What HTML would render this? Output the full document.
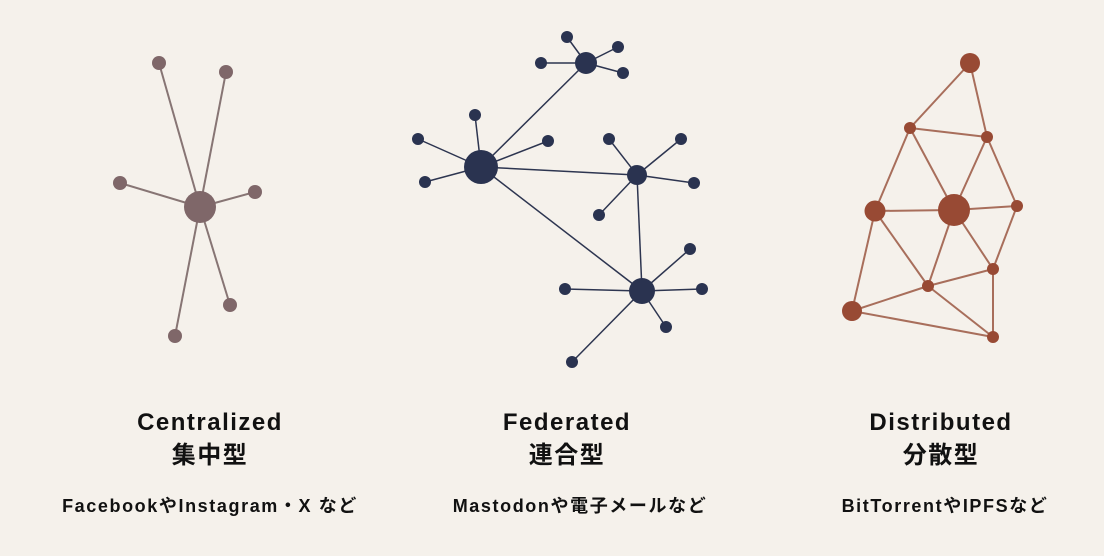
<!DOCTYPE html>
<html><head><meta charset="utf-8"><style>
html,body{margin:0;padding:0;background:#f5f1eb;}
body{width:1104px;height:556px;overflow:hidden;position:relative;font-family:"Liberation Sans","Noto Sans CJK JP",sans-serif;color:#111;}
.t{position:absolute;text-align:center;font-weight:bold;}
.h{font-size:24px;line-height:33px;letter-spacing:1.5px;}
.s{font-size:18px;letter-spacing:1.6px;}
</style></head><body>
<svg width="1104" height="556" style="position:absolute;left:0;top:0">
<g stroke="#877574" stroke-width="2">
<line x1="200" y1="207" x2="159" y2="63"/><line x1="200" y1="207" x2="226" y2="72"/>
<line x1="200" y1="207" x2="120" y2="183"/><line x1="200" y1="207" x2="255" y2="192"/>
<line x1="200" y1="207" x2="230" y2="305"/><line x1="200" y1="207" x2="175" y2="336"/>
</g>
<g fill="#7f6769">
<circle cx="200" cy="207" r="16"/><circle cx="159" cy="63" r="7"/><circle cx="226" cy="72" r="7"/>
<circle cx="120" cy="183" r="7"/><circle cx="255" cy="192" r="7"/><circle cx="230" cy="305" r="7"/><circle cx="175" cy="336" r="7"/>
</g>
<g stroke="#2d3550" stroke-width="1.5">
<line x1="481" y1="167" x2="418" y2="139"/><line x1="481" y1="167" x2="425" y2="182"/>
<line x1="481" y1="167" x2="475" y2="115"/><line x1="481" y1="167" x2="548" y2="141"/>
<line x1="481" y1="167" x2="586" y2="63"/><line x1="481" y1="167" x2="637" y2="175"/>
<line x1="481" y1="167" x2="642" y2="291"/>
<line x1="586" y1="63" x2="567" y2="37"/><line x1="586" y1="63" x2="618" y2="47"/>
<line x1="586" y1="63" x2="541" y2="63"/><line x1="586" y1="63" x2="623" y2="73"/>
<line x1="637" y1="175" x2="609" y2="139"/><line x1="637" y1="175" x2="681" y2="139"/>
<line x1="637" y1="175" x2="694" y2="183"/><line x1="637" y1="175" x2="599" y2="215"/>
<line x1="637" y1="175" x2="642" y2="291"/>
<line x1="642" y1="291" x2="690" y2="249"/><line x1="642" y1="291" x2="565" y2="289"/>
<line x1="642" y1="291" x2="702" y2="289"/><line x1="642" y1="291" x2="666" y2="327"/>
<line x1="642" y1="291" x2="572" y2="362"/>
</g>
<g fill="#2a3350">
<circle cx="481" cy="167" r="17"/><circle cx="586" cy="63" r="11"/><circle cx="637" cy="175" r="10"/><circle cx="642" cy="291" r="13"/>
<circle cx="418" cy="139" r="6"/><circle cx="425" cy="182" r="6"/><circle cx="475" cy="115" r="6"/><circle cx="548" cy="141" r="6"/>
<circle cx="567" cy="37" r="6"/><circle cx="618" cy="47" r="6"/><circle cx="541" cy="63" r="6"/><circle cx="623" cy="73" r="6"/>
<circle cx="609" cy="139" r="6"/><circle cx="681" cy="139" r="6"/><circle cx="694" cy="183" r="6"/><circle cx="599" cy="215" r="6"/>
<circle cx="690" cy="249" r="6"/><circle cx="565" cy="289" r="6"/><circle cx="702" cy="289" r="6"/><circle cx="666" cy="327" r="6"/><circle cx="572" cy="362" r="6"/>
</g>
<g stroke="#a86e5b" stroke-width="2">
<line x1="970" y1="63" x2="910" y2="128"/><line x1="970" y1="63" x2="987" y2="137"/>
<line x1="910" y1="128" x2="987" y2="137"/><line x1="910" y1="128" x2="875" y2="211"/>
<line x1="910" y1="128" x2="954" y2="210"/><line x1="987" y1="137" x2="954" y2="210"/>
<line x1="987" y1="137" x2="1017" y2="206"/><line x1="875" y1="211" x2="954" y2="210"/>
<line x1="954" y1="210" x2="1017" y2="206"/><line x1="875" y1="211" x2="852" y2="311"/>
<line x1="875" y1="211" x2="928" y2="286"/><line x1="954" y1="210" x2="928" y2="286"/>
<line x1="954" y1="210" x2="993" y2="269"/><line x1="1017" y1="206" x2="993" y2="269"/>
<line x1="993" y1="269" x2="928" y2="286"/><line x1="928" y1="286" x2="852" y2="311"/>
<line x1="928" y1="286" x2="993" y2="337"/><line x1="852" y1="311" x2="993" y2="337"/>
<line x1="993" y1="269" x2="993" y2="337"/>
</g>
<g fill="#984a34">
<circle cx="970" cy="63" r="10"/><circle cx="910" cy="128" r="6"/><circle cx="987" cy="137" r="6"/>
<circle cx="875" cy="211" r="10.5"/><circle cx="954" cy="210" r="16"/><circle cx="1017" cy="206" r="6"/>
<circle cx="993" cy="269" r="6"/><circle cx="928" cy="286" r="6"/><circle cx="852" cy="311" r="10"/><circle cx="993" cy="337" r="6"/>
</g>
</svg>
<div class="t h" style="left:60px;width:300px;top:406px">Centralized<br>集中型</div>
<div class="t h" style="left:417px;width:300px;top:406px">Federated<br>連合型</div>
<div class="t h" style="left:791px;width:300px;top:406px">Distributed<br>分散型</div>
<div class="t s" style="left:0px;width:420px;top:492px">FacebookやInstagram・X など</div>
<div class="t s" style="left:370px;width:420px;top:492px">Mastodonや電子メールなど</div>
<div class="t s" style="left:735px;width:420px;top:492px">BitTorrentやIPFSなど</div>
</body></html>
